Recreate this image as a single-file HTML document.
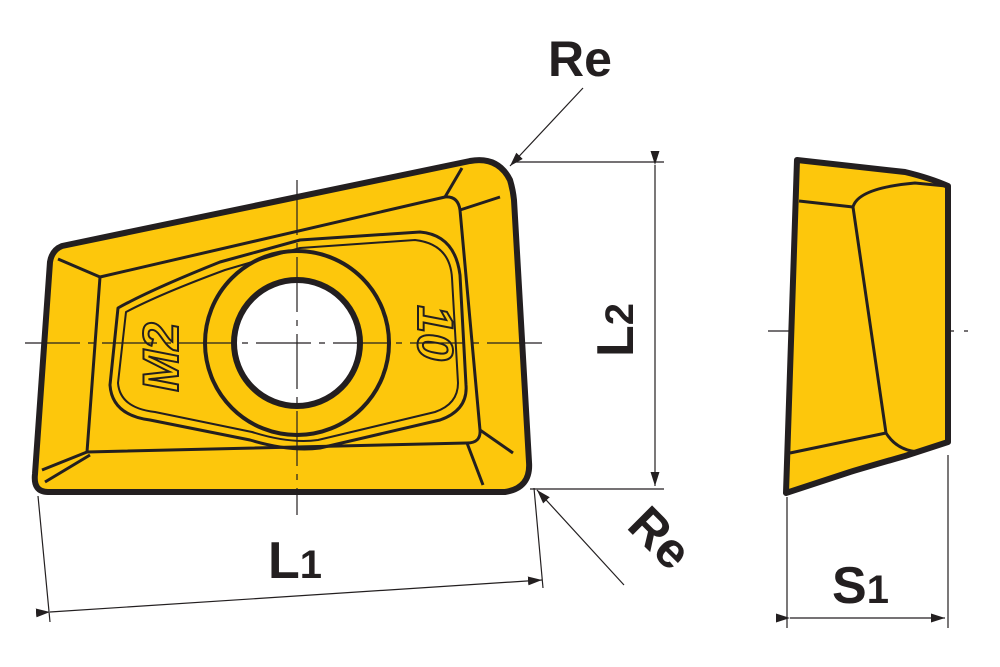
<!DOCTYPE html>
<html><head><meta charset="utf-8"><style>
html,body{margin:0;padding:0;background:#fff;}
svg{display:block;}
text{font-family:"Liberation Sans",sans-serif;font-weight:bold;fill:#231f20;}
</style></head><body>
<svg width="1000" height="667" viewBox="0 0 1000 667" xmlns="http://www.w3.org/2000/svg">
<defs>
<marker id="a" viewBox="0 0 10 10" refX="10" refY="5" markerWidth="14" markerHeight="14" markerUnits="userSpaceOnUse" orient="auto"><path d="M0,1.8 L10,5 L0,8.2 Z" fill="#231f20"/></marker>
</defs>
<path d="M62,246 L470,161 Q498,156 510,180 Q513,190 514,200 L529,462 Q531,488 505,492 L48,492 Q33,492 35,474 L50,262 Q52,250 62,246 Z" fill="#fdc70c" stroke="#231f20" stroke-width="6" stroke-linejoin="round"/>
<g fill="none" stroke="#231f20" stroke-width="3" stroke-linejoin="round">
<path d="M100,277 L445,197 Q458,196 460,210 L480,430 Q481,443 467,443 L87,452 Z"/>
<path d="M100,277 L58,259 M445,197 L462,168 M460,210 L500,197 M480,430 L513,453 M467,443 L483,485 M87,452 L42,470 M90,455 L45,482"/>
<path d="M118,308 Q150,290 220,262 L300,240 L420,232 Q455,235 460,275 L466,385 Q468,410 440,420 L320,448 Q290,452 250,440 L150,420 Q112,415 110,385 Z"/>
<path d="M126,312 Q160,294 225,270 L300,248 L415,240 Q450,244 452,278 L458,383 Q458,404 435,412 L318,440 Q290,444 252,432 L155,412 Q120,408 118,383 Z" stroke-width="2"/>
</g>
<circle cx="297" cy="343" r="92" fill="none" stroke="#231f20" stroke-width="4"/>
<circle cx="297" cy="343" r="63" fill="#fff" stroke="#231f20" stroke-width="6"/>
<text x="0" y="0" font-size="50" font-style="italic" transform="translate(178,357) rotate(-90)" text-anchor="middle" style="fill:none;stroke:#231f20;stroke-width:2">M2</text>
<text x="0" y="0" font-size="50" font-style="italic" transform="translate(418,333) rotate(90)" text-anchor="middle" style="fill:none;stroke:#231f20;stroke-width:2">10</text>
<g stroke="#231f20" stroke-width="1.2" fill="none">
<path d="M25,343 H545" stroke-dasharray="55,8,6,8"/>
<path d="M297,180 V515" stroke-dasharray="55,8,6,8"/>
<path d="M768,331 H968" stroke-dasharray="72,10,6,10"/>
<path d="M515,162 H664 M530,489 H664"/>
<path d="M655,165 V486" marker-start="url(#a)" marker-end="url(#a)"/>
<path d="M38,496 L50,622 M534,488 L543,588"/>
<path d="M50,612 L542,580" marker-start="url(#a)" marker-end="url(#a)"/>
<path d="M583,88 L510,166" marker-end="url(#a)"/>
<path d="M624,585 L537,490" marker-end="url(#a)"/>
<path d="M787,497 V628 M948,455 V628"/>
<path d="M790,618 H945" marker-start="url(#a)" marker-end="url(#a)"/>
</g>
<path d="M797,160 L905,172 Q930,178 948,186 L948,442 L905,456 Q870,466 850,472 L786,493 Z" fill="#fdc70c" stroke="#231f20" stroke-width="6" stroke-linejoin="round"/>
<g fill="none" stroke="#231f20" stroke-width="3">
<path d="M799,201 L853,207 Q858,188 915,183 L946,186"/>
<path d="M853,207 L886,433 Q898,452 922,452"/>
<path d="M790,453 L886,433"/>
</g>
<text x="548" y="76" font-size="50">Re</text>
<text x="0" y="0" font-size="50" transform="translate(648,550) rotate(45)" text-anchor="middle">Re</text>
<text x="0" y="0" font-size="52" transform="translate(633,330) rotate(-90)" text-anchor="middle">L<tspan font-size="40">2</tspan></text>
<text x="268" y="578" font-size="52">L<tspan font-size="40">1</tspan></text>
<text x="832" y="603" font-size="52">S<tspan font-size="40">1</tspan></text>
</svg>
</body></html>
